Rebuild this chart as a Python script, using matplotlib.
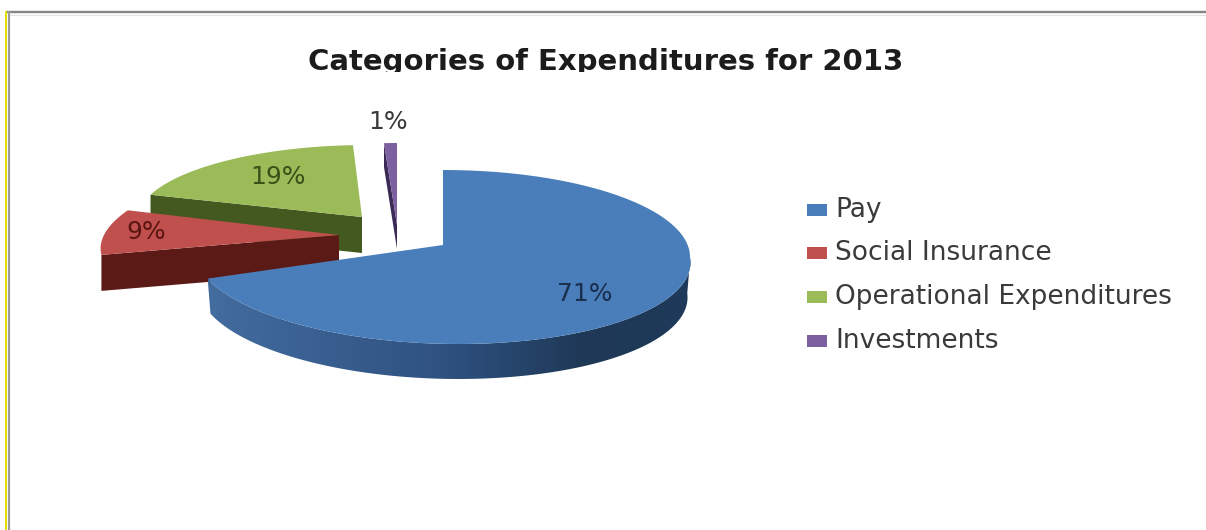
import numpy as np
import matplotlib
matplotlib.use("Agg")
import matplotlib.pyplot as plt
from matplotlib.patches import Polygon, Rectangle
from matplotlib.colors import LinearSegmentedColormap

# Expenditure shares in percent
categories = ["Pay", "Social Insurance", "Operational Expenditures", "Investments"]
shares = [71, 9, 19, 1]

face_colors = ["#4a7ebb", "#c0504d", "#9bbb59", "#7d60a0"]
side_colors = ["#2c4d78", "#5c1a16", "#44591f", "#3a2a55"]
label_colors = ["#1a2e4d", "#5a1512", "#3c5019", "#3a3a3a"]

# Exploded-pie layout: offset from the pie centre, ellipse radii, arc shift, shear and extrusion
PIE_CENTRE = (443, 245)
layout = [
    dict(dx=0, dy=0, rx=247, ry=87, arc_dy=12, shear=0.0, shear_low=0.18, depth=35),
    dict(dx=-104, dy=-10, rx=235, ry=80, arc_dy=0, shear=-0.5, shear_low=0.0, depth=36),
    dict(dx=-81, dy=-28, rx=224, ry=72, arc_dy=0, shear=-0.07, shear_low=0.0, depth=36),
    dict(dx=-46, dy=-20, rx=207, ry=82, arc_dy=0, shear=0.0, shear_low=0.0, depth=24),
]
label_pos = [(585, 294), (146, 232), (278, 177), (388, 122)]
legend_y = [210, 253, 297, 341]

fig = plt.figure(figsize=(12.06, 5.30), dpi=100)
ax = fig.add_axes([0, 0, 1, 1])
ax.axis("off")


def px(width):
    return width * 72 / 100


def arc_points(theta, spec):
    """Points on a slice's rim for clockwise angles measured from 12 o'clock."""
    ax0 = PIE_CENTRE[0] + spec["dx"]
    ay0 = PIE_CENTRE[1] + spec["dy"]
    y_rel = -np.cos(theta) * spec["ry"]
    x_rel = (np.sin(theta) * spec["rx"] + spec["shear"] * y_rel
             + spec["shear_low"] * np.maximum(y_rel, 0))
    return np.column_stack([ax0 + x_rel, ay0 + spec["arc_dy"] + y_rel])


edges = np.radians(np.concatenate([[0], np.cumsum(shares)]) * 3.6)
paths = {}
for i, spec in enumerate(layout):
    theta = np.linspace(edges[i], edges[i + 1], 240)
    apex = np.array([PIE_CENTRE[0] + spec["dx"], PIE_CENTRE[1] + spec["dy"]])
    paths[i] = (theta, apex, arc_points(theta, spec))

# Back slices first so that nearer ones overlap them
for i, z in [(2, 2), (3, 3), (1, 4)]:
    theta, apex, rim = paths[i]
    start = rim[0]
    depth = layout[i]["depth"]
    side = [start, apex, apex + [0, depth], start + [0, depth]]
    ax.add_patch(Polygon(side, closed=True, facecolor=side_colors[i], edgecolor="none", zorder=z))
    ax.add_patch(Polygon(np.vstack([apex, rim]), closed=True, facecolor=face_colors[i],
                         edgecolor="none", zorder=z + 0.1))

# Outer wall of the main slice, shaded from left to right
theta, apex, rim = paths[0]
wall = rim[theta >= np.pi / 2]
lower = wall + [0, layout[0]["depth"]]
lower[:, 0] = apex[0] + (lower[:, 0] - apex[0]) * 0.988
x_min, x_max = wall[:, 0].min(), wall[:, 0].max()
y_min, y_max = wall[:, 1].min(), lower[:, 1].max()
wall_cmap = LinearSegmentedColormap.from_list(
    "wall", [(0, "#436c9f"), (0.5, "#2e5180"), (0.78, "#1e3856"), (1, "#1f3a5a")])
shade = ax.imshow(np.linspace(0, 1, 256)[None, :], cmap=wall_cmap, aspect="auto",
                  extent=(x_min, x_max, y_max, y_min), interpolation="bilinear", zorder=5)
wall_outline = Polygon(np.vstack([wall, lower[::-1]]), closed=True, transform=ax.transData)
shade.set_clip_path(wall_outline)
ax.add_patch(Polygon(np.vstack([apex, rim]), closed=True, facecolor=face_colors[0],
                     edgecolor="none", zorder=6))

ax.set_xlim(0, 1206)
ax.set_ylim(530, 0)

# Percentage labels
for share, (x, y), colour in zip(shares, label_pos, label_colors):
    ax.text(x, y, f"{share}%", ha="center", va="center", fontsize=18,
            family="DejaVu Sans", color=colour, zorder=8)

# Legend
for name, y, colour in zip(categories, legend_y, face_colors):
    ax.add_patch(Rectangle((807, y - 6), 20, 12, facecolor=colour, edgecolor="none"))
    ax.text(835, y, name, ha="left", va="center", fontsize=19,
            family="DejaVu Sans", color="#3a3a3a")

# Title, cropped just under its baseline by the chart frame
title = ax.text(606, 70.5, "Categories of Expenditures for 2013", ha="center", va="baseline",
                fontsize=21, fontweight="bold", family="DejaVu Sans", color="#1c1c1c",
                clip_on=True)
title.set_clip_path(Rectangle((0, 0), 1206, 72, transform=ax.transData))

# Frame lines along the top and the left
ax.plot([6, 1206], [12, 12], color="#868686", lw=px(2.4), solid_capstyle="butt", zorder=9)
ax.plot([10, 1206], [14.5, 14.5], color="#e2e2e2", lw=px(1.2), solid_capstyle="butt", zorder=9)
ax.plot([6.3, 6.3], [11, 530], color="#e4dc00", lw=px(2), solid_capstyle="butt", zorder=9)
ax.plot([8.8, 8.8], [11, 530], color="#9a9a9a", lw=px(2.2), solid_capstyle="butt", zorder=9)

fig.savefig("out.png", dpi=100, facecolor="white")
